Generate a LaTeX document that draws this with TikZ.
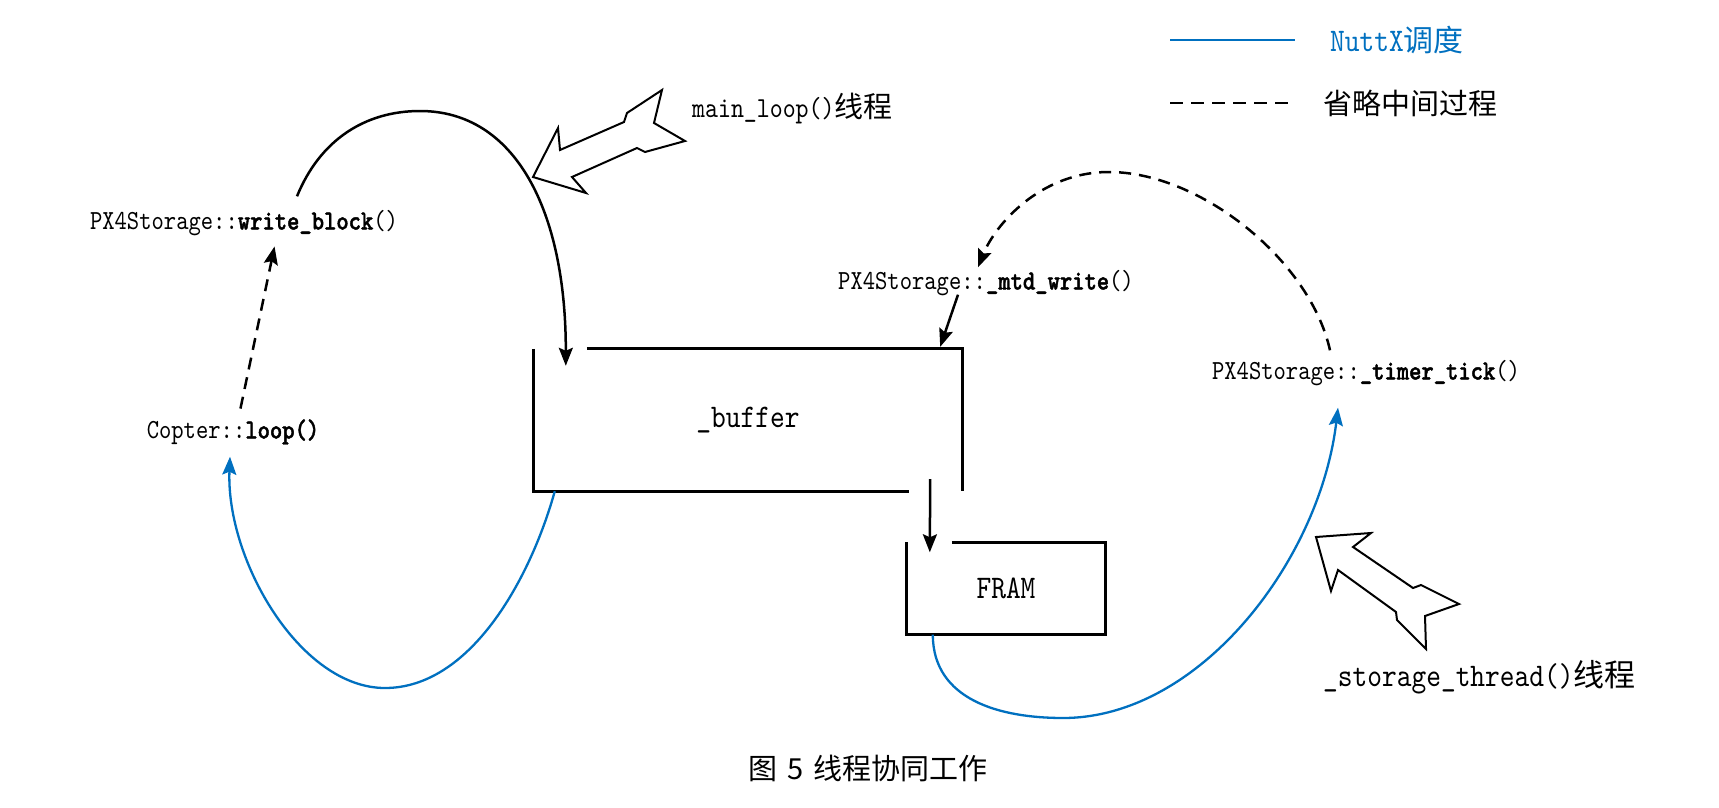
\documentclass[tikz,border=0pt]{standalone}
\usepackage{fontspec}
\usetikzlibrary{arrows.meta}
\newfontfamily\codefont{lmmono10-regular.otf}[BoldFont=lmmonolt10-bold.otf,BoldFeatures={FakeBold=1.5},FakeStretch=0.85]
\newfontfamily\cjkfont{Noto Sans CJK SC}
\definecolor{nuttxblue}{RGB}{0,112,192}
\tikzset{
codelbl/.style={font=\codefont\fontsize{27.6pt}{30pt}\selectfont,inner sep=0pt,text height=18pt,text depth=5pt},
bigcode/.style={font=\codefont\fontsize{33pt}{36pt}\selectfont,inner sep=0pt},
cjklbl/.style={font=\cjkfont\fontsize{29pt}{32pt}\selectfont,inner sep=0pt},
boxline/.style={line width=3pt},
flow/.style={line width=2.5pt,-{Stealth[length=18pt,width=14pt,inset=3pt]}},
skip/.style={flow,dash pattern=on 12pt off 8pt},
sched/.style={flow,nuttxblue,line width=2.3pt},
hollow/.style={line width=2pt,fill=white}
}
\begin{document}
\begin{tikzpicture}[x=1pt,y=-1pt]
\fill[white] (0,0) rectangle (1719,808);
\node[codelbl] (writeblock) at (244,223) {PX4Storage::\textbf{write\_block}()};
\node[codelbl] (copterloop) at (233,432) {Copter::\textbf{loop()}};
\node[codelbl] (mtdwrite) at (986,283) {PX4Storage::\textbf{\_mtd\_write}()};
\node[codelbl] (timertick) at (1366,373) {PX4Storage::\textbf{\_timer\_tick}()};
\node[bigcode,minimum width=428pt,minimum height=142pt] (buffer) at (748,420) {\_buffer};
\node[bigcode,minimum width=198pt,minimum height=92pt] (fram) at (1006,588.5) {FRAM};
\node[anchor=west,inner sep=0pt,font=\codefont\fontsize{29pt}{32pt}\selectfont] (mainlooplbl) at (692,109) {main\_loop(){\cjkfont 线程}};
\node[bigcode,anchor=west] (storagelbl) at (1323,677) {\_storage\_thread(){\cjkfont\fontsize{31pt}{34pt}\selectfont 线程}};
\node[bigcode,anchor=west,text=nuttxblue] (legschedlbl) at (1330,40) {NuttX{\cjkfont\fontsize{30pt}{33pt}\selectfont 调度}};
\node[cjklbl,anchor=west] (legskiplbl) at (1323,103) {省略中间过程};
\node[cjklbl] (caption) at (868,768) {图\hspace{10pt}5\hspace{10pt}线程协同工作};
\coordinate (legsched) at (1170,40);
\coordinate (legskip) at (1170,103);
\draw[nuttxblue,line width=2.3pt] (legsched) -- ++(125,0);
\draw[line width=2.3pt,dash pattern=on 13pt off 8pt] (legskip) -- ++(125,0);
\draw[boxline] (buffer.north west) -- (buffer.south west) -- ([xshift=-53pt]buffer.south east);
\draw[boxline] ([xshift=53pt]buffer.north west) -- (buffer.north east) -- (buffer.south east);
\draw[boxline] ([xshift=45pt]fram.north west) -- (fram.north east) -- (fram.south east) -- (fram.south west) -- (fram.north west);
\draw[flow] ([xshift=53pt,yshift=15pt]writeblock.north) .. controls (320,140) and (365,111) .. (420,111) .. controls (515,111) and (566,210) .. ([xshift=32pt,yshift=-17pt]buffer.north west);
\draw[skip,shorten <=12pt,shorten >=12pt] ([xshift=5pt]copterloop.north) -- ([xshift=33pt]writeblock.south);
\draw[flow] ([xshift=-28pt]mtdwrite.south) -- ([xshift=-22pt,yshift=2pt]buffer.north east);
\draw[flow] ([xshift=-32pt,yshift=12pt]buffer.south east) -- ([xshift=23pt,yshift=-10pt]fram.north west);
\draw[skip] ([xshift=-36pt,yshift=11pt]timertick.north) .. controls (1310,260) and (1200,172) .. (1109,172) .. controls (1040,172) and (995,225) .. ([xshift=-8pt,yshift=4pt]mtdwrite.north);
\draw[sched] ([xshift=21pt]buffer.south west) .. controls (530,580) and (470,688) .. (385,688) .. controls (300,688) and (226,560) .. ([xshift=-3pt,yshift=-13pt]copterloop.south);
\draw[sched] ([xshift=26pt]fram.south west) .. controls (933,700) and (1000,718) .. (1063,718) .. controls (1200,718) and (1320,560) .. ([xshift=-28pt,yshift=-23pt]timertick.south);
\draw[hollow] (533,177) -- (558,128) -- (560,150) -- (624,122) -- (627,113) -- (662,90) -- (654,123) -- (685,141) -- (645,152) -- (637,148) -- (572,177) -- (586,193) -- cycle;
\draw[hollow] (1316,537) -- (1371,533) -- (1353,547) -- (1413,588) -- (1421,585) -- (1459,604) -- (1425,616) -- (1426,649) -- (1397,620) -- (1396,612) -- (1338,570) -- (1331,591) -- cycle;
\end{tikzpicture}
\end{document}
